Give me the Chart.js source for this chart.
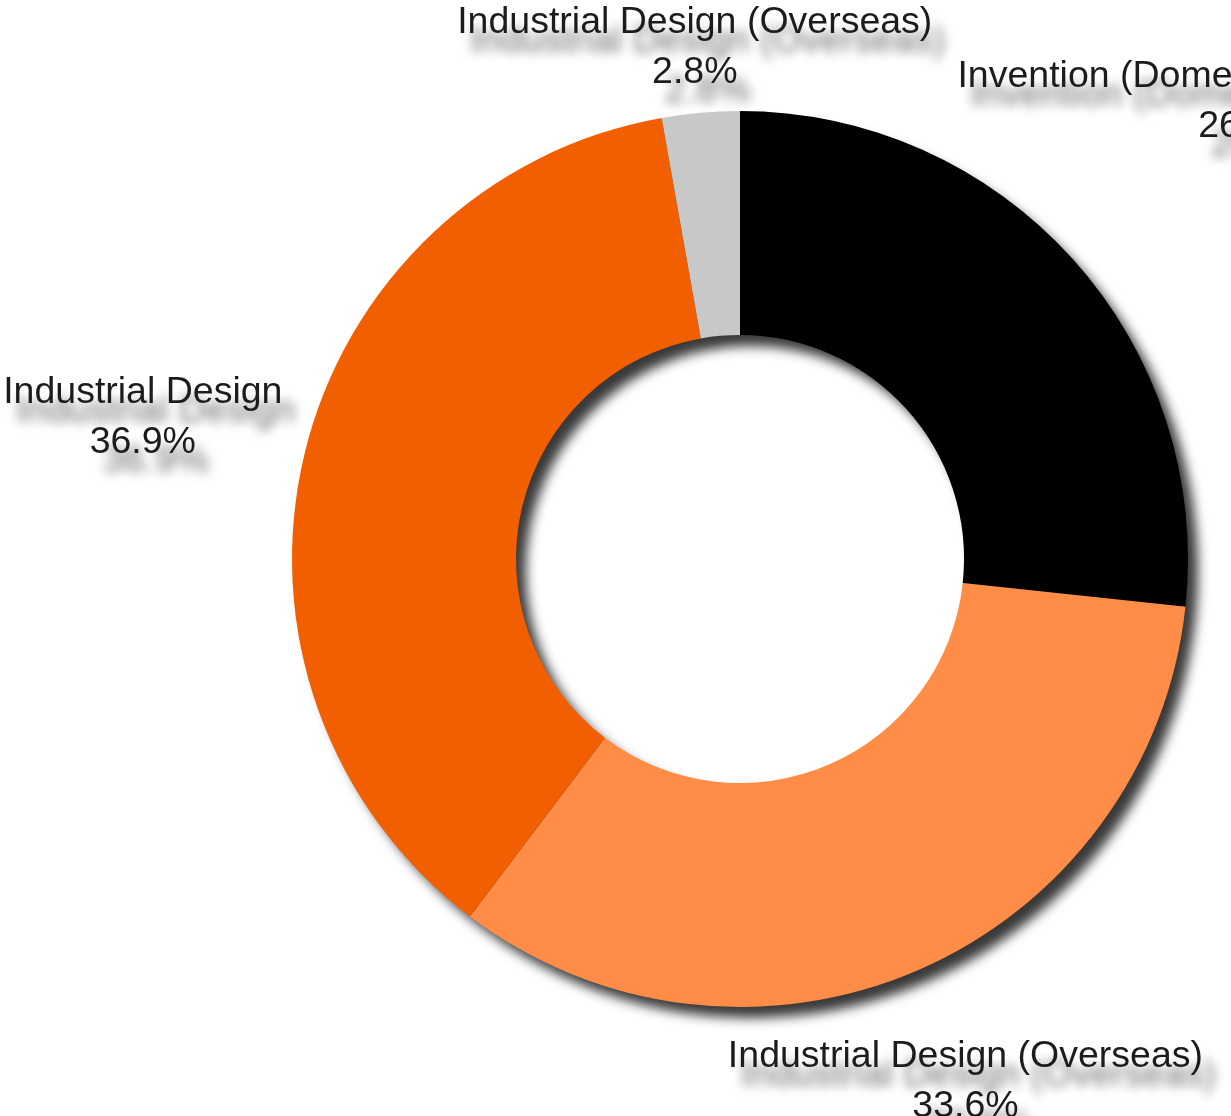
<!DOCTYPE html>
<html>
<head>
<meta charset="utf-8">
<script src="https://cdn.jsdelivr.net/npm/chart.js@4"></script>
<style>
  html, body { margin: 0; padding: 0; background: #fff; overflow: hidden; }
  #wrap { width: 1231px; height: 1116px; position: relative; }
</style>
</head>
<body>
<div id="wrap"><canvas id="share-chart"></canvas></div>
<script>
// data, clockwise from 12 o'clock
const categories = [
  "Invention (Domestic and Overseas)",
  "Industrial Design (Overseas)",
  "Industrial Design",
  "Industrial Design (Overseas)",
];
const shares = [26.7, 33.6, 36.9, 2.8];
const sliceColors = ["#000000", "#ff8c47", "#f25f00", "#c8c8c8"];

const labelFont = '37.5px "Liberation Sans", Arial, sans-serif';
const lineGap = 50;

// shadow under the whole ring
const ringShadow = {
  id: "ringShadow",
  beforeDatasetsDraw(chart) {
    const arc = chart.getDatasetMeta(0).data[0];
    if (!arc) return;
    const { x, y, outerRadius, innerRadius } = arc.getProps(["x", "y", "outerRadius", "innerRadius"], true);
    const ctx = chart.ctx;
    ctx.save();
    ctx.shadowColor = "rgba(0,0,0,0.78)";
    ctx.shadowBlur = 12;
    ctx.shadowOffsetX = 11;
    ctx.shadowOffsetY = 12;
    ctx.fillStyle = "#333";
    ctx.beginPath();
    ctx.arc(x, y, outerRadius - 1, 0, Math.PI * 2);
    ctx.arc(x, y, innerRadius + 1, 0, Math.PI * 2, true);
    ctx.fill("evenodd");
    ctx.restore();
  },
};

// two-line labels outside each slice, pushed out until the box clears the ring
const outsideLabels = {
  id: "outsideLabels",
  afterDraw(chart) {
    const ctx = chart.ctx;
    const meta = chart.getDatasetMeta(0);
    ctx.save();
    ctx.font = labelFont;
    ctx.textAlign = "center";
    ctx.textBaseline = "middle";
    meta.data.forEach((arc, i) => {
      const p = arc.getProps(["x", "y", "startAngle", "endAngle", "outerRadius"], true);
      const mid = (p.startAngle + p.endAngle) / 2;
      const lines = [categories[i], shares[i].toFixed(1) + "%"];
      const hw = Math.max(...lines.map((t) => ctx.measureText(t).width)) / 2;
      const top = 53, bottom = 45;
      const target = p.outerRadius + 20;
      const gapAt = (r) => {
        const cx = r * Math.cos(mid), cy = r * Math.sin(mid);
        const nx = Math.min(Math.max(0, cx - hw), cx + hw);
        const ny = Math.min(Math.max(0, cy - top), cy + bottom);
        return Math.hypot(nx, ny);
      };
      let lo = 0, hi = 2000;
      for (let k = 0; k < 60; k++) {
        const m = (lo + hi) / 2;
        if (gapAt(m) < target) lo = m; else hi = m;
      }
      const lx = p.x + hi * Math.cos(mid);
      const ly = p.y + hi * Math.sin(mid) + 2;
      ctx.shadowColor = "rgba(0,0,0,0.6)";
      ctx.shadowBlur = 11;
      ctx.shadowOffsetX = 13;
      ctx.shadowOffsetY = 19;
      ctx.fillStyle = "#1c1c1c";
      ctx.fillText(lines[0], lx, ly - lineGap / 2);
      ctx.fillText(lines[1], lx, ly + lineGap / 2);
    });
    ctx.restore();
  },
};

const ctxShare = document.getElementById("share-chart").getContext("2d");
const shareChart = new Chart(ctxShare, {
  type: "doughnut",
  data: {
    labels: categories,
    datasets: [
      {
        data: shares,
        backgroundColor: sliceColors,
        borderWidth: 0,
      },
    ],
  },
  options: {
    responsive: true,
    maintainAspectRatio: false,
    animation: false,
    cutout: "50%",
    layout: { padding: { left: 292, right: 43, top: 110, bottom: 108 } },
    plugins: {
      legend: { display: false },
      tooltip: { enabled: false },
    },
  },
  plugins: [ringShadow, outsideLabels],
});
</script>
</body>
</html>
